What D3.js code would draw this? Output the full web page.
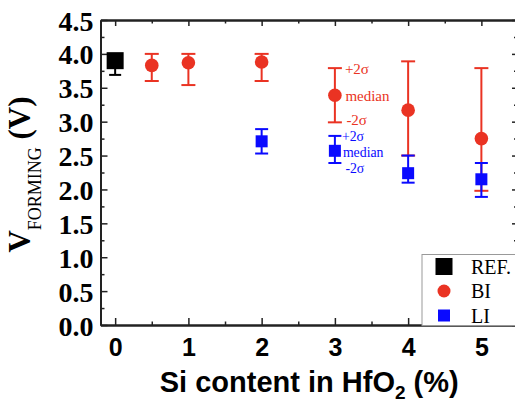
<!DOCTYPE html>
<html>
<head>
<meta charset="utf-8">
<script src="https://cdn.jsdelivr.net/npm/d3@7"></script>
<style>
  body { margin: 0; background: #fff; }
  svg { display: block; }
</style>
</head>
<body>
<div id="chart"></div>
<script>
// data
const refX = [0];
const refMedian = [3.90];
const refHigh = [3.98];
const refLow = [3.69];

const biX = [0.5, 1, 2, 3, 4, 5];
const biMedian = [3.83, 3.87, 3.88, 3.39, 3.17, 2.75];
const biHigh = [4.0, 4.0, 4.0, 3.79, 3.89, 3.79];
const biLow = [3.6, 3.54, 3.6, 2.99, 2.5, 1.98];

const liX = [2, 3, 4, 5];
const liMedian = [2.71, 2.57, 2.24, 2.15];
const liHigh = [2.89, 2.79, 2.5, 2.39];
const liLow = [2.53, 2.39, 2.10, 1.89];

const xTicks = [0, 1, 2, 3, 4, 5];
const xMinor = [0.5, 1.5, 2.5, 3.5, 4.5];
const yTicks = [0, 0.5, 1, 1.5, 2, 2.5, 3, 3.5, 4, 4.5];
const yMinor = [0.25, 0.75, 1.25, 1.75, 2.25, 2.75, 3.25, 3.75, 4.25];
const legendNames = ['REF.', 'BI', 'LI'];
const noteText = ['+2σ', 'median', '-2σ'];

const RED = '#ea3323', BLUE = '#0a0aff', AX = '#222';

const W = 515, H = 405;
const mLeft = 100.5, mRight = 518, mTop = 20, mBottom = 325;

const svg = d3.select('#chart').append('svg')
    .attr('width', W).attr('height', H);

const x = d3.scaleLinear().domain([-0.2, 5.5]).range([mLeft, mRight]);
const y = d3.scaleLinear().domain([0, 4.5]).range([mBottom, mTop]);

function styleAxis(g) {
    g.selectAll('path').attr('stroke', AX).attr('stroke-width', 2);
    g.selectAll('line').attr('stroke', AX).attr('stroke-width', 1.5);
}

// minor ticks first
svg.append('g').attr('transform', `translate(0,${mBottom})`)
    .call(d3.axisBottom(x).tickValues(xMinor).tickSize(-3.5).tickFormat('').tickSizeOuter(0))
    .call(styleAxis);
svg.append('g').attr('transform', `translate(0,${mTop})`)
    .call(d3.axisTop(x).tickValues(xMinor).tickSize(-3.5).tickFormat('').tickSizeOuter(0))
    .call(styleAxis);
svg.append('g').attr('transform', `translate(${mLeft},0)`)
    .call(d3.axisLeft(y).tickValues(yMinor).tickSize(-4).tickFormat('').tickSizeOuter(0))
    .call(styleAxis);
svg.append('g').attr('transform', `translate(${mRight},0)`)
    .call(d3.axisRight(y).tickValues(yMinor).tickSize(-4).tickFormat('').tickSizeOuter(0))
    .call(styleAxis);

// major axes
const xAxis = svg.append('g').attr('transform', `translate(0,${mBottom})`)
    .call(d3.axisBottom(x).tickValues(xTicks).tickSize(-7).tickPadding(13).tickSizeOuter(0).tickFormat(d3.format('d')))
    .call(styleAxis);
xAxis.selectAll('text')
    .attr('font-family', '"Liberation Sans", Arial, sans-serif')
    .attr('font-weight', 'bold').attr('font-size', 25).attr('fill', '#000');

svg.append('g').attr('transform', `translate(0,${mTop})`)
    .call(d3.axisTop(x).tickValues(xTicks).tickSize(-6).tickFormat('').tickSizeOuter(0))
    .call(styleAxis);

const yAxis = svg.append('g').attr('transform', `translate(${mLeft},0)`)
    .call(d3.axisLeft(y).tickValues(yTicks).tickSize(-7).tickPadding(7).tickSizeOuter(0).tickFormat(d3.format('.1f')))
    .call(styleAxis);
yAxis.selectAll('text')
    .attr('font-family', '"Liberation Serif", "Times New Roman", serif')
    .attr('font-weight', 'bold').attr('font-size', 28).attr('fill', '#000')
    .attr('dy', '0.36em');

svg.append('g').attr('transform', `translate(${mRight},0)`)
    .call(d3.axisRight(y).tickValues(yTicks).tickSize(-6).tickFormat('').tickSizeOuter(0))
    .call(styleAxis);

// axis titles
const xt = svg.append('text')
    .attr('x', (mLeft + mRight) / 2).attr('y', 392)
    .attr('text-anchor', 'middle')
    .attr('font-family', '"Liberation Sans", Arial, sans-serif')
    .attr('font-weight', 'bold').attr('font-size', 29);
xt.append('tspan').text('Si content in HfO');
xt.append('tspan').attr('font-size', 19).attr('dy', 7).text('2');
xt.append('tspan').attr('dy', -7).text(' (%)');

const yt = svg.append('text')
    .attr('transform', `translate(30,${(mTop + mBottom) / 2 + 2}) rotate(-90)`)
    .attr('text-anchor', 'middle')
    .attr('font-family', '"Liberation Serif", "Times New Roman", serif')
    .attr('font-weight', 'bold').attr('font-size', 31);
yt.append('tspan').text('V');
yt.append('tspan').attr('font-size', 18).attr('font-weight', 'normal').attr('dy', 11).text('FORMING');
yt.append('tspan').attr('dy', -11).text(' (V)');

// error bars + markers
function errorBars(xs, hi, lo, color, cap) {
    const g = svg.append('g').attr('stroke', color).attr('stroke-width', 2);
    xs.forEach((d, i) => {
        g.append('line').attr('x1', x(d)).attr('x2', x(d)).attr('y1', y(hi[i])).attr('y2', y(lo[i]));
        g.append('line').attr('x1', x(d) - cap / 2).attr('x2', x(d) + cap / 2).attr('y1', y(hi[i])).attr('y2', y(hi[i]));
        g.append('line').attr('x1', x(d) - cap / 2).attr('x2', x(d) + cap / 2).attr('y1', y(lo[i])).attr('y2', y(lo[i]));
    });
}

errorBars(refX, refHigh, refLow, '#000', 12);
errorBars(biX, biHigh, biLow, RED, 14);
errorBars(liX, liHigh, liLow, BLUE, 13);

svg.append('g').selectAll('rect').data(refX).join('rect')
    .attr('x', (d) => x(d) - 8.5).attr('y', (d, i) => y(refMedian[i]) - 8.5)
    .attr('width', 17).attr('height', 17).attr('fill', '#000');

svg.append('g').selectAll('circle').data(biX).join('circle')
    .attr('cx', (d) => x(d)).attr('cy', (d, i) => y(biMedian[i]))
    .attr('r', 6.8).attr('fill', RED);

svg.append('g').selectAll('rect').data(liX).join('rect')
    .attr('x', (d) => x(d) - 6).attr('y', (d, i) => y(liMedian[i]) - 6)
    .attr('width', 12).attr('height', 12).attr('fill', BLUE);

// +2σ / median / -2σ notes at Si = 3 %
const noteFont = '"Liberation Serif", "Times New Roman", serif';
const k = biX.indexOf(3), j = liX.indexOf(3);
const redNotes = [biHigh[k], biMedian[k], biLow[k]];
const blueNotes = [liHigh[j], liMedian[j], liLow[j]];
const redDx = [10, 10.5, 11.5], redDy = [6, 5.5, 2.8];
const blueDx = [7, 8, 10.5], blueDy = [5.4, 6.4, 10.2];

svg.append('g').selectAll('text').data(noteText).join('text')
    .attr('x', (d, i) => x(3) + redDx[i]).attr('y', (d, i) => y(redNotes[i]) + redDy[i])
    .attr('font-family', noteFont).attr('font-size', 15).attr('fill', RED)
    .text((d) => d);

svg.append('g').selectAll('text').data(noteText).join('text')
    .attr('x', (d, i) => x(3) + blueDx[i]).attr('y', (d, i) => y(blueNotes[i]) + blueDy[i])
    .attr('font-family', noteFont).attr('font-size', 13.8).attr('fill', BLUE)
    .text((d) => d);

// legend
const lg = svg.append('g');
lg.append('rect')
    .attr('x', 422).attr('y', 254.5).attr('width', 110).attr('height', 71)
    .attr('fill', '#fff').attr('stroke', '#999').attr('stroke-width', 1);
const rowY = [266.5, 291, 315.5];
lg.append('rect').attr('x', 444 - 8.5).attr('y', rowY[0] - 8.5).attr('width', 17).attr('height', 17).attr('fill', '#000');
lg.append('circle').attr('cx', 444).attr('cy', rowY[1]).attr('r', 6.5).attr('fill', RED);
lg.append('rect').attr('x', 444 - 6).attr('y', rowY[2] - 6).attr('width', 12).attr('height', 12).attr('fill', BLUE);
lg.selectAll('text.lab').data(legendNames).join('text')
    .attr('class', 'lab')
    .attr('x', 471).attr('y', (d, i) => rowY[i] + 7)
    .attr('font-family', noteFont).attr('font-size', 20).attr('fill', '#000')
    .text((d) => d);
</script>
</body>
</html>
